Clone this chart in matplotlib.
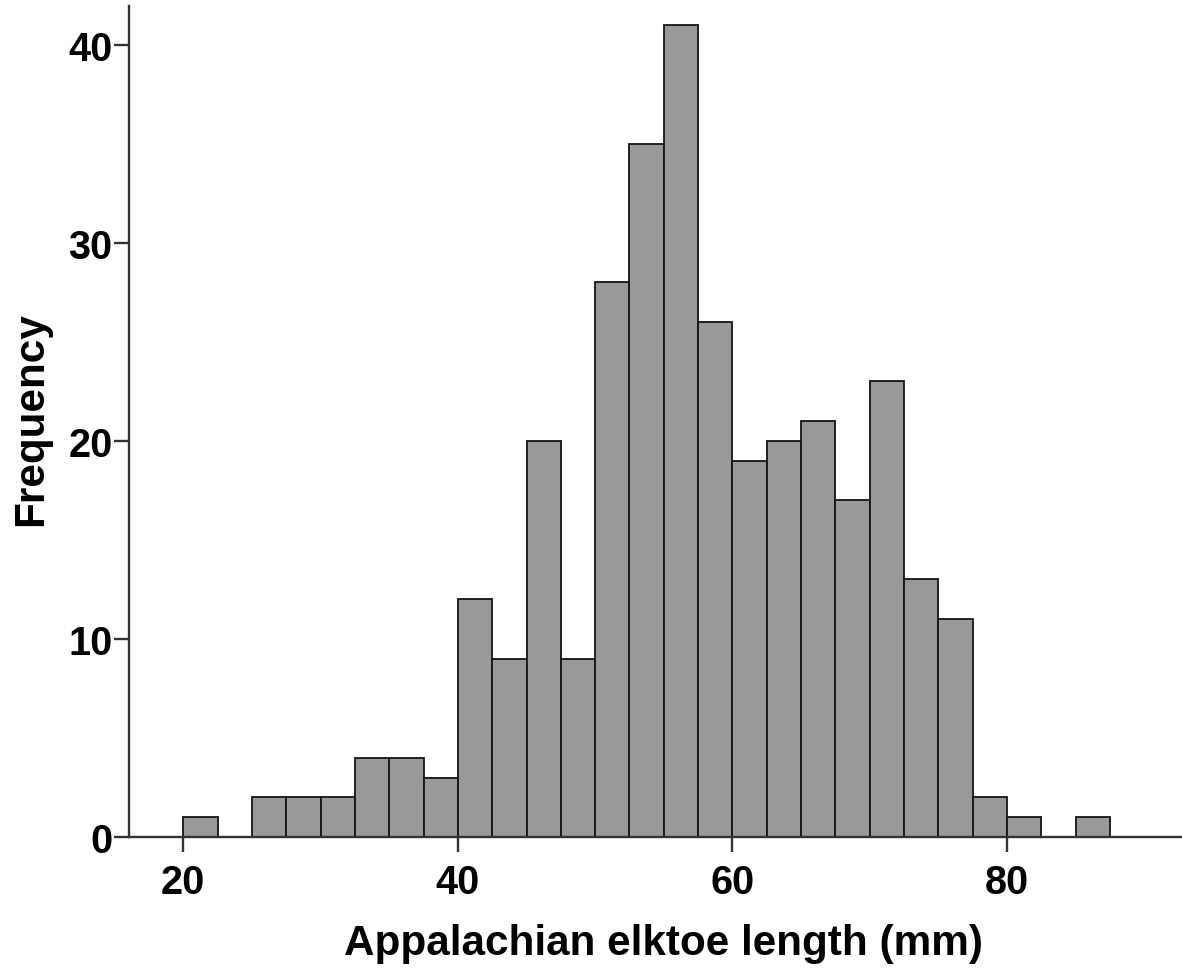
import matplotlib
matplotlib.use("Agg")
import matplotlib.pyplot as plt
import numpy as np

bin_edges = [20.0, 22.5, 25.0, 27.5, 30.0, 32.5, 35.0, 37.5, 40.0, 42.5, 45.0, 47.5,
             50.0, 52.5, 55.0, 57.5, 60.0, 62.5, 65.0, 67.5, 70.0, 72.5, 75.0, 77.5,
             80.0, 82.5, 85.0, 87.5]
counts = [1, 0, 2, 2, 2, 4, 4, 3, 12, 9, 20, 9, 28, 35, 41, 26, 19, 20, 21, 17,
          23, 13, 11, 2, 1, 0, 1]
x_ticks = [20, 40, 60, 80]
y_ticks = [0, 10, 20, 30, 40]
x_label = "Appalachian elktoe length (mm)"
y_label = "Frequency"

plt.rcParams['font.family'] = ['Liberation Sans', 'DejaVu Sans']

W, H = 1182, 970
fig = plt.figure(figsize=(W/100, H/100), dpi=100)
ax = fig.add_axes([129/W, (H-838)/H, 1 - 129/W, (838-7)/H])

lefts = np.array(bin_edges[:-1])
widths = np.diff(bin_edges)
for l, w, c in zip(lefts, widths, counts):
    if c > 0:
        ax.bar(l, c, width=w, align='edge', color='#999999', edgecolor='#151515',
               linewidth=1.3, zorder=2)

ax.set_xlim(16.05, 92.74)
ax.set_ylim(0, 41.95)
ax.set_xticks(x_ticks)
ax.set_yticks(y_ticks)
for s in ['top', 'right']:
    ax.spines[s].set_visible(False)
for s in ['left', 'bottom']:
    ax.spines[s].set_color('#333333')
    ax.spines[s].set_linewidth(1.7)
ax.tick_params(axis='both', direction='out', length=10.8, width=1.7, color='#333333',
               labelsize=28.5)
ax.tick_params(axis='x', pad=8)
ax.tick_params(axis='y', pad=1)
for lab in ax.get_xticklabels() + ax.get_yticklabels():
    lab.set_fontweight('bold')

ax.set_xlabel(x_label, fontsize=30.4, fontweight='bold', va='baseline', ha='center')
ax.xaxis.set_label_coords(663.5/W, 15/H, transform=fig.transFigure)
ax.set_ylabel(y_label, fontsize=30.4, fontweight='bold', va='baseline', ha='center')
ax.yaxis.set_label_coords(42/W, (H-419)/H, transform=fig.transFigure)

fig.savefig("out.png", dpi=100)
